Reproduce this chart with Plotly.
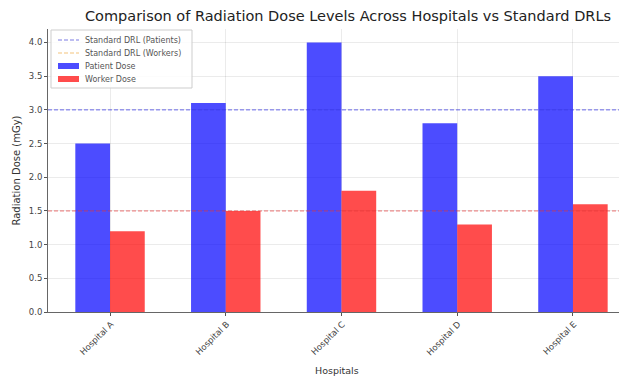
import plotly.graph_objects as go

hospitals = ["Hospital A", "Hospital B", "Hospital C", "Hospital D", "Hospital E"]
patient_dose = [2.5, 3.1, 4.0, 2.8, 3.5]
worker_dose = [1.2, 1.5, 1.8, 1.3, 1.6]
drl_patients = 3.0
drl_workers = 1.5
y_ticks = [0.0, 0.5, 1.0, 1.5, 2.0, 2.5, 3.0, 3.5, 4.0]

idx = list(range(len(hospitals)))
font = "DejaVu Sans"

# page has an 8px body margin; figure sized to fit
W, H = 619, 369
L, T, B, R = 40, 21, 65, 0
PX0, PY0 = 8 + L, 8 + T                      # plot-area top-left on page
PW, PH = W - L - R, H - T - B


def px(x):
    return (x - PX0) / PW


def py(y):
    return (PY0 + PH - y) / PH


blue_bar = "rgba(0,0,255,0.7)"
red_bar = "rgba(255,0,0,0.7)"
blue_line = "rgba(60,60,230,0.75)"
red_line = "rgba(230,60,60,0.7)"

fig = go.Figure()
fig.add_trace(go.Bar(x=idx, y=patient_dose, name="Patient Dose",
                     marker=dict(color=blue_bar, line=dict(width=0))))
fig.add_trace(go.Bar(x=idx, y=worker_dose, name="Worker Dose",
                     marker=dict(color=red_bar, line=dict(width=0))))

shapes = []
annots = []
# standard DRL reference lines
for val, col in [(drl_patients, blue_line), (drl_workers, red_line)]:
    shapes.append(dict(type="line", xref="paper", x0=0, x1=1, yref="y", y0=val, y1=val,
                       line=dict(color=col, width=1, dash="4px,2px"), layer="above"))

# custom legend (matplotlib-like, compact)
shapes.append(dict(type="rect", xref="paper", yref="paper",
                   x0=px(51), x1=px(192), y0=py(30), y1=py(88),
                   line=dict(color="rgba(205,205,205,1)", width=1),
                   fillcolor="rgba(255,255,255,0.85)", layer="above"))
entries = [
    ("Standard DRL (Patients)", "line", "rgba(90,90,220,0.8)", 40),
    ("Standard DRL (Workers)", "line", "rgba(240,180,90,0.8)", 53),
    ("Patient Dose", "patch", blue_bar, 66),
    ("Worker Dose", "patch", red_bar, 79),
]
for text, kind, color, yy in entries:
    if kind == "line":
        shapes.append(dict(type="line", xref="paper", yref="paper",
                           x0=px(58), x1=px(79), y0=py(yy), y1=py(yy),
                           line=dict(color=color, width=1, dash="4px,2px"), layer="above"))
    else:
        shapes.append(dict(type="rect", xref="paper", yref="paper",
                           x0=px(58), x1=px(79), y0=py(yy + 3), y1=py(yy - 3),
                           line=dict(width=0), fillcolor=color, layer="above"))
    annots.append(dict(text=text, xref="paper", yref="paper", x=px(83), y=py(yy),
                       xanchor="left", yanchor="middle", showarrow=False,
                       font=dict(family=font, size=8, color="#555")))

annots.append(dict(text="Hospitals", xref="paper", yref="paper", x=px(337), y=py(370),
                   xanchor="center", yanchor="middle", showarrow=False,
                   font=dict(family=font, size=9.5, color="#333")))

fig.update_layout(
    width=W, height=H,
    margin=dict(l=L, r=R, t=T, b=B),
    paper_bgcolor="white", plot_bgcolor="white",
    barmode="group", bargap=0.4, bargroupgap=0,
    font=dict(family=font, size=9, color="#333"),
    title=dict(text="Comparison of Radiation Dose Levels Across Hospitals vs Standard DRLs",
               xref="paper", x=px(348), xanchor="center",
               yref="container", y=1 - 8 / H, yanchor="middle",
               font=dict(family=font, size=14.5, color="#222")),
    showlegend=False,
    shapes=shapes,
    annotations=annots,
)
fig.update_xaxes(
    range=[-0.536, 4.467], tickvals=idx, ticktext=hospitals, tickangle=-45,
    ticks="outside", ticklen=3, tickcolor="#555",
    showgrid=True, gridcolor="rgba(0,0,0,0.08)", gridwidth=1,
    showline=True, linecolor="#666", linewidth=1,
    tickfont=dict(size=8.5, color="#444"), ticklabelshift=1, zeroline=False,
    automargin=False,
)
fig.update_yaxes(
    range=[0, 4.2], tickvals=y_ticks, ticktext=[f"{v:.1f}" for v in y_ticks],
    ticks="outside", ticklen=3, tickcolor="#555",
    showgrid=True, gridcolor="rgba(0,0,0,0.08)", gridwidth=1,
    showline=True, linecolor="#666", linewidth=1,
    title=dict(text="Radiation Dose (mGy)", font=dict(size=10, color="#333"), standoff=6),
    tickfont=dict(size=8.5, color="#444"), zeroline=False,
    automargin=False,
)

fig.write_html("out.html")
